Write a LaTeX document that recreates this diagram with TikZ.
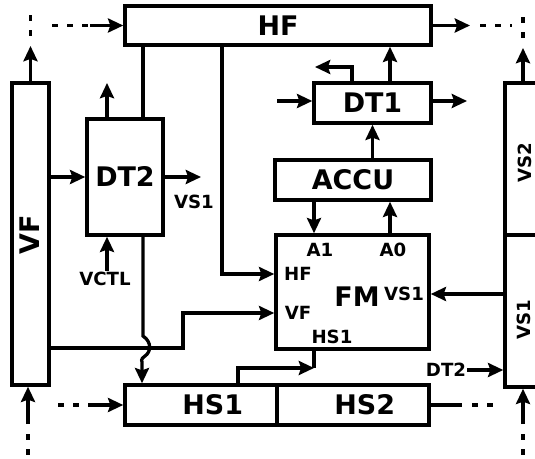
\documentclass[tikz,border=0pt]{standalone}
\usepackage{fontspec}
\setmainfont{DejaVu Sans}
\usetikzlibrary{arrows.meta,positioning}
\tikzset{
  blk/.style ={draw=black,line width=3pt,inner sep=0pt,
               font=\fontsize{23}{25}\selectfont\bfseries},
  big/.style ={inner sep=1pt,font=\fontsize{23}{25}\selectfont\bfseries},
  lbl/.style ={inner sep=1pt,font=\fontsize{15.5}{17}\selectfont\bfseries},
  ln/.style  ={line width=2.8pt},
  arr/.style ={-{Stealth[length=13pt,width=12pt,inset=2pt]},line width=2.8pt},
  dsh/.style ={line width=2.8pt,dash pattern=on 5pt off 8pt},
}

\begin{document}
\begin{tikzpicture}[x=0.03cm,y=-0.03cm]
  \useasboundingbox (0,0) rectangle (535,459);
  \clip (0,0) rectangle (535,459);

  % --- blocks ---
  \node[blk,minimum width=9.18cm,minimum height=1.17cm] (HF) at (278,25.5) {HF};
  \node[blk,minimum width=1.11cm,minimum height=9.06cm] (VF) at (30.5,234) {};
  \node[big,rotate=90] (vfL) at (30,235) {VF};
  \node[blk,minimum width=2.28cm,minimum height=3.48cm] (DT2) at (125,177) {DT2};
  \node[blk,minimum width=3.51cm,minimum height=1.2cm] (DT1) at (372.5,103) {DT1};
  \node[blk,minimum width=4.68cm,minimum height=1.2cm] (ACCU) at (353,180) {ACCU};
  \node[blk,minimum width=4.59cm,minimum height=3.42cm] (FM) at (352.5,292) {};
  \node[blk,minimum width=4.56cm,minimum height=1.2cm] (HS1) at (201,405) {\hspace{20pt}HS1};
  \node[blk,minimum width=4.56cm,minimum height=1.2cm,right=-3pt of HS1] (HS2) {\hspace{20pt}HS2};
  \node[blk,minimum width=1.8cm,minimum height=4.56cm] (VS2) at (535,159) {};
  \node[blk,minimum width=1.8cm,minimum height=4.56cm,below=-3pt of VS2] (VS1) {};
  \node[lbl,rotate=90] (vs2L) at (525,163) {VS2};
  \node[lbl,rotate=90] (vs1L) at (524,320) {VS1};

  % FM ports
  \node[lbl] (fma1) at (320,250) {A1};
  \node[lbl] (fma0) at (393,250) {A0};
  \node[lbl] (fmhf) at (298,274) {HF};
  \node[lbl] (fmvf) at (298,313) {VF};
  \node[big] (fmL)  at (357,297) {FM};
  \node[lbl] (fmvs) at (404,294) {VS1};
  \node[lbl] (fmhs) at (332,337) {HS1};

  % free labels
  \node[lbl] (vsiL) at (194,202) {VS1};
  \node[lbl] (vctl) at (105,279) {VCTL};
  \node[lbl] (dt2R) at (446,370) {DT2};

  % lanes and free ends
  \coordinate (xa) at (143,0);
  \coordinate (xb) at (222,0);
  \coordinate (xk) at (183,0);
  \coordinate (xc) at (314,0);
  \coordinate (xd) at (390,0);
  \coordinate (xe) at (352,0);
  \coordinate (xf) at (238,0);
  \coordinate (vfo) at (0,348);
  \coordinate (vfT) at (30.5,46);
  \coordinate (dA) at (30.5,36);  \coordinate (dB) at (30.5,8);
  \coordinate (dC) at (52,25.5);  \coordinate (dD) at (90,25.5);
  \coordinate (hfO) at (470,25.5);
  \coordinate (dE) at (480,25.5); \coordinate (dF) at (512,25.5);
  \coordinate (vsT) at (523,48);
  \coordinate (dG) at (523,38);   \coordinate (dH) at (523,8);
  \coordinate (dt2U) at (107,83);
  \coordinate (dt2O) at (201,177);
  \coordinate (hpA) at (143,336); \coordinate (hpB) at (142,362);
  \coordinate (dt1L) at (315,67);
  \coordinate (dt1I) at (277,101); \coordinate (dt1O) at (467,101);
  \coordinate (vsB) at (523,424);
  \coordinate (dI) at (523,434);  \coordinate (dJ) at (523,459);
  \coordinate (vfB) at (28,424);
  \coordinate (dK) at (28,434);   \coordinate (dL) at (28,459);
  \coordinate (hsI) at (88,405);  \coordinate (dM) at (58,405);
  \coordinate (hsO) at (462,405);
  \coordinate (dN) at (472,405);  \coordinate (dP) at (495,405);
  \coordinate (fmIn) at (314,368);

  % --- top ---
  \draw[arr] (VF.north) -- (vfT);
  \draw[dsh] (dA) -- (dB);
  \draw[dsh] (dC) -- (dD);
  \draw[arr] (dD) -- (HF.west);
  \draw[arr] (HF.east) -- (hfO);
  \draw[dsh] (dE) -- (dF);
  \draw[arr] (VS2.north -| vsT) -- (vsT);
  \draw[dsh] (dG) -- (dH);

  % --- DT2 ---
  \draw[ln] (HF.south -| xa) -- (DT2.north -| xa);
  \draw[arr] (DT2.north -| dt2U) -- (dt2U);
  \draw[arr] (VF.east |- DT2.west) -- (DT2.west);
  \draw[arr] (DT2.east) -- (dt2O);
  \draw[arr] (vctl.north -| dt2U) -- (DT2.south -| dt2U);
  \draw[arr] (DT2.south -| xa) -- (hpA)
        .. controls (152,342) and (151,352) .. (145,356)
        .. controls (140,359) and (142,362) .. (hpB) -- (HS1.north -| hpB);

  % --- FM inputs ---
  \draw[arr] (HF.south -| xb) |- (FM.west |- fmhf);
  \draw[arr] (VF.east |- vfo) -| (xk |- fmvf) -- (FM.west |- fmvf);
  \draw[arr] (VS1.west |- fmvs) -- (FM.east |- fmvs);
  \draw[arr] (HS1.north -| xf) |- (fmIn);
  \draw[ln] (fmIn) -- (FM.south -| fmIn);

  % --- ACCU / DT1 ---
  \draw[arr] (ACCU.south -| xc) -- (FM.north -| xc);
  \draw[arr] (FM.north -| xd) -- (ACCU.south -| xd);
  \draw[arr] (ACCU.north -| DT1.south) -- (DT1.south);
  \draw[arr] (DT1.north -| xd) -- (HF.south -| xd);
  \draw[arr] (DT1.north -| xe) |- (dt1L);
  \draw[arr] (dt1I) -- (DT1.west |- dt1I);
  \draw[arr] (DT1.east |- dt1O) -- (dt1O);

  % --- right side ---
  \draw[arr] (dt2R.east) -- (VS1.west |- dt2R.east);
  \draw[arr] (vsB) -- (VS1.south -| vsB);
  \draw[dsh] (dI) -- (dJ);

  % --- bottom ---
  \draw[arr] (vfB) -- (VF.south -| vfB);
  \draw[dsh] (dK) -- (dL);
  \draw[dsh] (dM) -- (hsI);
  \draw[arr] (hsI) -- (HS1.west);
  \draw[ln] (HS2.east) -- (hsO);
  \draw[dsh] (dN) -- (dP);
\end{tikzpicture}
\end{document}
